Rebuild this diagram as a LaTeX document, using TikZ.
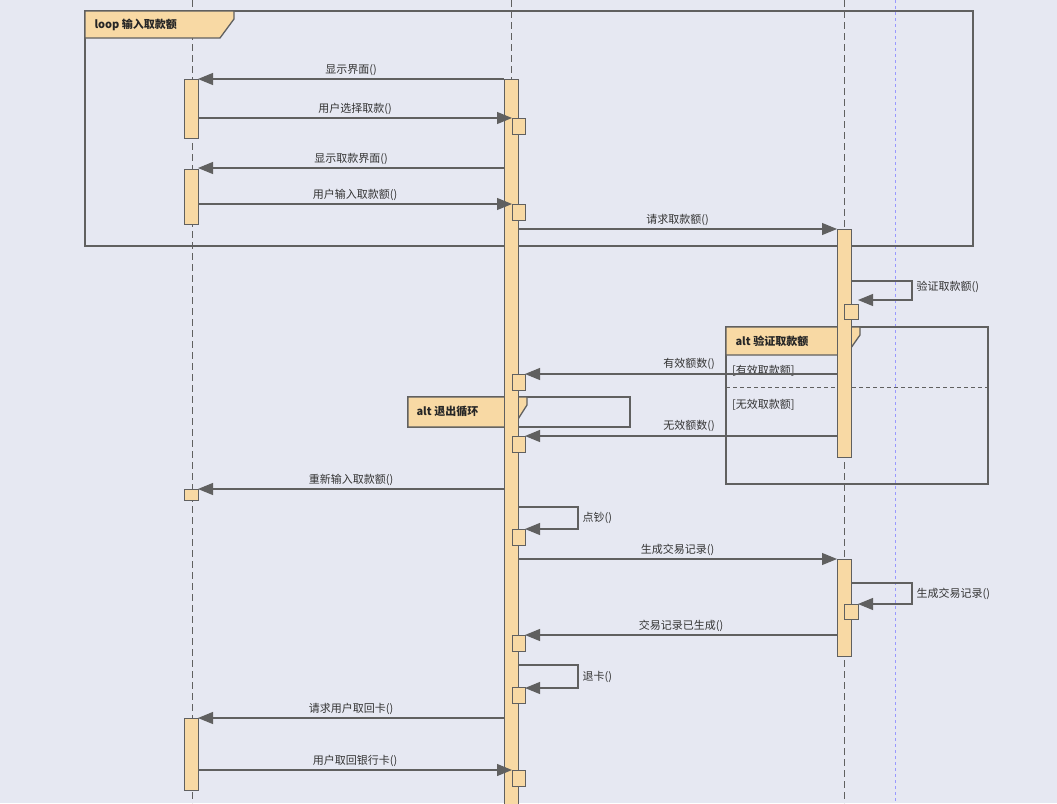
\documentclass[tikz,border=0pt]{standalone}
\usepackage{fontspec}
\setmainfont{Noto Sans CJK SC}
\usetikzlibrary{arrows.meta}
\definecolor{bg}{HTML}{E6E8F2}
\definecolor{bar}{HTML}{F8D9A4}
\definecolor{ln}{HTML}{606060}
\tikzset{
  msg/.style={draw=ln, line width=1.1pt, -{Triangle[length=15pt,width=12pt]}},
  act/.style={draw=ln, fill=bar, line width=1pt},
  lab/.style={font=\fontsize{11}{13}\selectfont, text=black!80, inner sep=1pt},
  frm/.style={draw=ln, line width=1.3pt},
  tag/.style={font=\bfseries\fontsize{11}{13}\selectfont, text=black!85}
}
\begin{document}
\begin{tikzpicture}[x=1pt,y=-1pt]
  \fill[bg] (0,0) rectangle (1057,803);
  \useasboundingbox (0,0) rectangle (1057,803);

  % lifelines
  \foreach \lx in {192,511,844}
    \draw[ln, dashed, dash pattern=on 7pt off 4pt, line width=1pt] (\lx,0) -- (\lx,803);
  \draw[blue!40, dashed, dash pattern=on 3pt off 3pt] (895,0) -- (895,803);

  % frames
  \draw[frm] (85,11) rectangle (973,246);
  \draw[frm, fill=bar] (85,11) -- (234,11) -- (234,19) -- (220,38) -- (85,38) -- cycle;
  \node[tag, anchor=west] at (91,25) {loop 输入取款额};

  \draw[frm] (726,327) rectangle (988,484);
  \draw[ln, dashed, dash pattern=on 4pt off 3pt, line width=1pt] (726,387) -- (988,387);
  \draw[frm, fill=bar] (726,327) -- (860,327) -- (860,335) -- (846,355) -- (726,355) -- cycle;
  \node[tag, anchor=west] at (732,341) {alt 验证取款额};
  \node[lab, anchor=west] (g1) at (731,371) {[有效取款额]};
  \node[lab, anchor=west] (g2) at (731,405) {[无效取款额]};

  \draw[frm] (408,397) rectangle (630,427);
  \draw[frm, fill=bar] (408,397) -- (527,397) -- (527,405) -- (513,427) -- (408,427) -- cycle;
  \node[tag, anchor=west] at (413,411) {alt 退出循环};

  % activations
  \draw[act] (184,79) rectangle (198,138);
  \draw[act] (184,169) rectangle (198,224);
  \draw[act] (184,489) rectangle (198,500);
  \draw[act] (184,718) rectangle (198,790);
  \draw[act] (504,79) rectangle (518,806);
  \draw[act] (837,229) rectangle (851,457);
  \draw[act] (837,559) rectangle (851,656);
  \foreach \by in {118,204,374,436,529,635,687,770}
    \draw[act] (512,\by) rectangle (525,\by+16);
  \foreach \by in {304,604}
    \draw[act] (844,\by) rectangle (858,\by+15);

  % message ends
  \foreach \nm/\mx/\my in {a1/504/79, a2/198/79, b1/198/118, b2/512/118,
      c1/504/168, c2/198/168, d1/198/204, d2/512/204, e1/518/229, e2/837/229,
      f1/837/374, f2/525/374, g1/837/436, g2/525/436, h1/504/489, h2/198/489,
      i1/518/559, i2/837/559, j1/837/635, j2/525/635, k1/504/718, k2/198/718,
      l1/198/770, l2/512/770}
    \coordinate (\nm) at (\mx,\my);

  \draw[msg] (a1) -- (a2) node[lab, midway, above=2pt] {显示界面()};
  \draw[msg] (b1) -- (b2) node[lab, midway, above=2pt] {用户选择取款()};
  \draw[msg] (c1) -- (c2) node[lab, midway, above=2pt] {显示取款界面()};
  \draw[msg] (d1) -- (d2) node[lab, midway, above=2pt] {用户输入取款额()};
  \draw[msg] (e1) -- (e2) node[lab, midway, above=2pt] {请求取款额()};
  \draw[msg] (f1) -- (f2);
  \node[lab, anchor=south east] at (716,371) {有效额数()};
  \draw[msg] (g1) -- (g2);
  \node[lab, anchor=south east] at (716,433) {无效额数()};
  \draw[msg] (h1) -- (h2) node[lab, midway, above=2pt] {重新输入取款额()};
  \draw[msg] (i1) -- (i2) node[lab, midway, above=2pt] {生成交易记录()};
  \draw[msg] (j1) -- (j2) node[lab, midway, above=2pt] {交易记录已生成()};
  \draw[msg] (k1) -- (k2) node[lab, midway, above=2pt] {请求用户取回卡()};
  \draw[msg] (l1) -- (l2) node[lab, midway, above=2pt] {用户取回银行卡()};

  % self messages
  \coordinate (s1a) at (851,281); \coordinate (s1b) at (858,300);
  \draw[msg] (s1a) -- (912,281) -- (912,300) node[lab, right=3pt, pos=0.3] {验证取款额()} -- (s1b);
  \coordinate (s2a) at (518,507); \coordinate (s2b) at (525,529);
  \draw[msg] (s2a) -- (578,507) -- (578,529) node[lab, right=3pt, pos=0.5] {点钞()} -- (s2b);
  \coordinate (s3a) at (851,583); \coordinate (s3b) at (858,604);
  \draw[msg] (s3a) -- (912,583) -- (912,604) node[lab, right=3pt, pos=0.5] {生成交易记录()} -- (s3b);
  \coordinate (s4a) at (518,665); \coordinate (s4b) at (525,688);
  \draw[msg] (s4a) -- (578,665) -- (578,688) node[lab, right=3pt, pos=0.5] {退卡()} -- (s4b);
\end{tikzpicture}
\end{document}
